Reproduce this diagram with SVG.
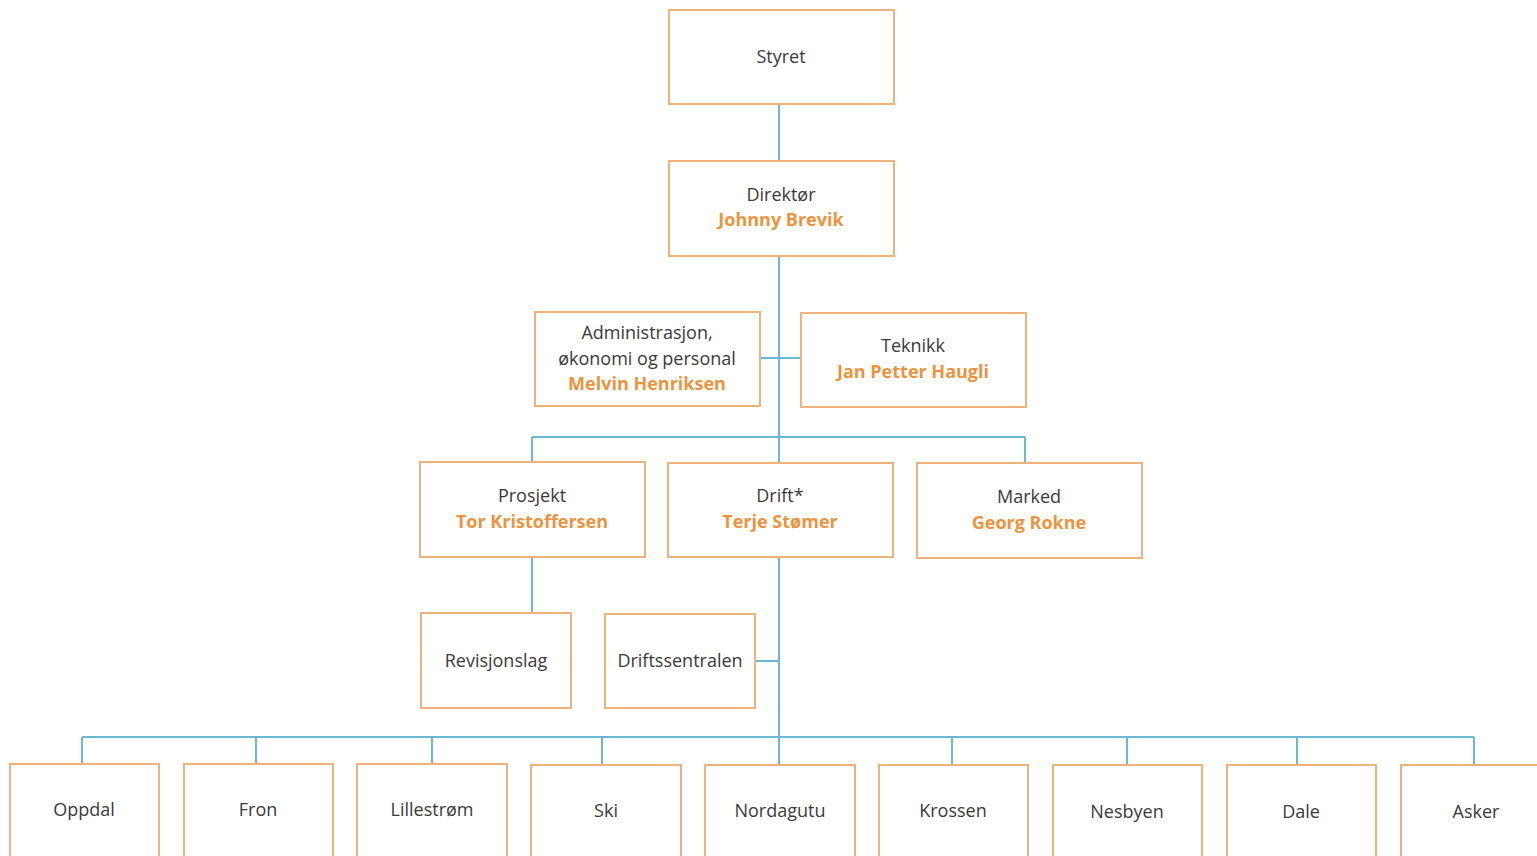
<svg xmlns="http://www.w3.org/2000/svg" width="1537" height="856" viewBox="0 0 1537 856">
<style>
.box{fill:#fff;stroke:#eeb27c;stroke-width:2}
.t{font-family:"Open Sans","Liberation Sans",sans-serif;font-size:18px;fill:#3a3a3a;text-anchor:middle}
.n{font-family:"Open Sans","Liberation Sans",sans-serif;font-size:18px;font-weight:bold;fill:#ea9440;text-anchor:middle}
.c{fill:none;stroke:#6ab8d2;stroke-width:2}
</style>
<rect width="1537" height="856" fill="#fff"/>
<g id="connectors">
<path class="c" d="M779 104V161M779 256V463M760 358H801M532 437H1025M532 437V462M1025 437V463M532 557V613M779 557V738M755 661H779M82 737H1474"/>
<path class="c" d="M82 737V764M256 737V764M432 737V764M602 737V764M779 737V764M952 737V764M1127 737V764M1297 737V764M1474 737V765"/>
</g>
<g id="styret"><rect class="box" x="669" y="10" width="225" height="94"/><text class="t" x="781" y="63">Styret</text></g>
<g id="direktor"><rect class="box" x="669" y="161" width="225" height="95"/><text class="t" x="781" y="201">Direktør</text><text class="n" x="781" y="226">Johnny Brevik</text></g>
<g id="admin"><rect class="box" x="535" y="312" width="225" height="94"/><text class="t" x="647" y="339">Administrasjon,</text><text class="t" x="647" y="365">økonomi og personal</text><text class="n" x="647" y="390">Melvin Henriksen</text></g>
<g id="teknikk"><rect class="box" x="801" y="313" width="225" height="94"/><text class="t" x="913" y="352">Teknikk</text><text class="n" x="913" y="378">Jan Petter Haugli</text></g>
<g id="prosjekt"><rect class="box" x="420" y="462" width="225" height="95"/><text class="t" x="532" y="502">Prosjekt</text><text class="n" x="532" y="528">Tor Kristoffersen</text></g>
<g id="drift"><rect class="box" x="668" y="463" width="225" height="94"/><text class="t" x="780" y="502">Drift*</text><text class="n" x="780" y="528">Terje Stømer</text></g>
<g id="marked"><rect class="box" x="917" y="463" width="225" height="95"/><text class="t" x="1029" y="503">Marked</text><text class="n" x="1029" y="529">Georg Rokne</text></g>
<g id="revisjonslag"><rect class="box" x="421" y="613" width="150" height="95"/><text class="t" x="496" y="667">Revisjonslag</text></g>
<g id="driftssentralen"><rect class="box" x="605" y="614" width="150" height="94"/><text class="t" x="680" y="667">Driftssentralen</text></g>
<g id="oppdal"><rect class="box" x="10" y="764" width="149" height="100"/><text class="t" x="84" y="816">Oppdal</text></g>
<g id="fron"><rect class="box" x="184" y="764" width="149" height="100"/><text class="t" x="258" y="816">Fron</text></g>
<g id="lillestrom"><rect class="box" x="357" y="764" width="150" height="100"/><text class="t" x="432" y="816">Lillestrøm</text></g>
<g id="ski"><rect class="box" x="531" y="765" width="150" height="100"/><text class="t" x="606" y="817">Ski</text></g>
<g id="nordagutu"><rect class="box" x="705" y="765" width="150" height="100"/><text class="t" x="780" y="817">Nordagutu</text></g>
<g id="krossen"><rect class="box" x="879" y="765" width="149" height="100"/><text class="t" x="953" y="817">Krossen</text></g>
<g id="nesbyen"><rect class="box" x="1053" y="765" width="149" height="100"/><text class="t" x="1127" y="818">Nesbyen</text></g>
<g id="dale"><rect class="box" x="1227" y="765" width="149" height="100"/><text class="t" x="1301" y="818">Dale</text></g>
<g id="asker"><rect class="box" x="1401" y="765" width="150" height="100"/><text class="t" x="1476" y="818">Asker</text></g>
</svg>
